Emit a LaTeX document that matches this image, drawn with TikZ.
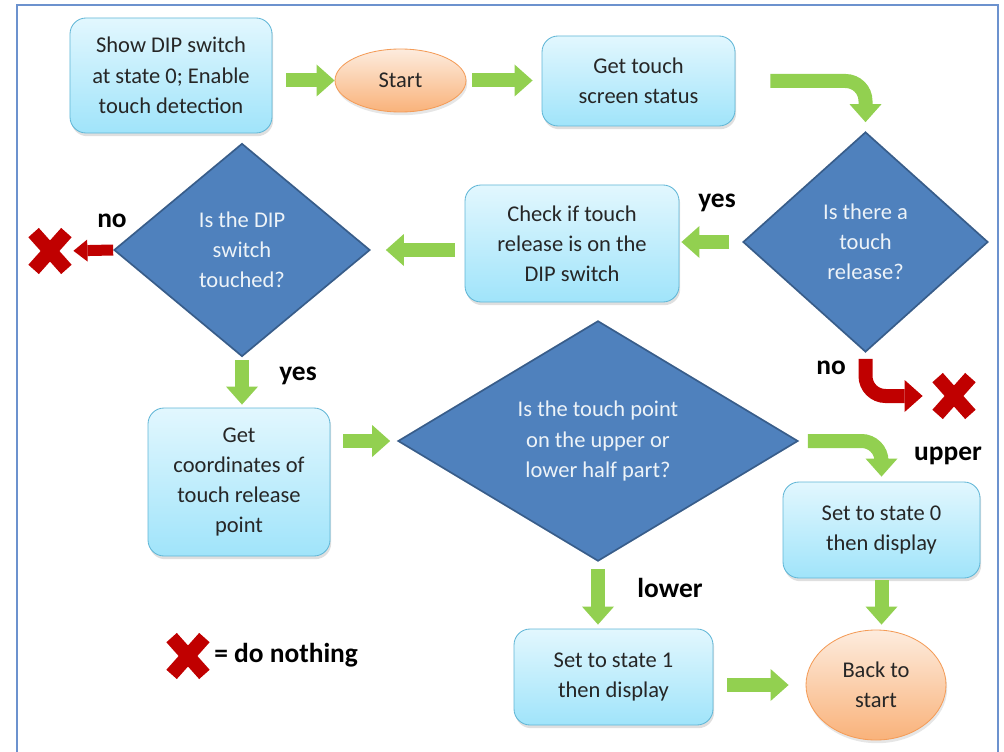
\documentclass[tikz,border=0pt]{standalone}
\usepackage{fontspec}
\setmainfont{Carlito}
\usetikzlibrary{arrows.meta, shapes.geometric, shapes.misc, shadows}
\definecolor{boxtop}{RGB}{226,247,254}
\definecolor{boxbot}{RGB}{160,228,250}
\definecolor{boxline}{RGB}{96,182,214}
\definecolor{ovtop}{RGB}{253,236,222}
\definecolor{ovbot}{RGB}{249,178,122}
\definecolor{ovline}{RGB}{244,156,88}
\definecolor{decfill}{RGB}{79,129,189}
\definecolor{decline}{RGB}{56,93,138}
\definecolor{gogreen}{RGB}{146,208,80}
\definecolor{xred}{RGB}{192,0,0}
\definecolor{framecol}{RGB}{108,146,206}
\tikzset{
  box/.style      = {draw=boxline, semithick, rounded corners=4mm, align=center,
                     top color=boxtop, bottom color=boxbot, text=black!85,
                     font=\fontsize{16}{21.5}\selectfont, inner sep=0pt,
                     drop shadow={opacity=0.25, shadow xshift=0.3mm, shadow yshift=-0.8mm}},
  oval/.style     = {ellipse, draw=ovline, semithick, align=center,
                     top color=ovtop, bottom color=ovbot, text=black!85,
                     font=\fontsize{16}{21.5}\selectfont, inner sep=0pt,
                     drop shadow={opacity=0.2, shadow xshift=0.3mm, shadow yshift=-0.8mm}},
  decision/.style = {diamond, draw=decline, line width=1.2pt, fill=decfill,
                     text=white!90!decfill, align=center, inner sep=0pt,
                     font=\fontsize{16}{21.5}\selectfont},
  nope/.style     = {cross out, draw=xred, line width=3.5mm, minimum width=8.2mm,
                     minimum height=9.2mm, inner sep=0pt, outer sep=0pt},
  fat/.style      = {draw=gogreen, line width=3.5mm,
                     -{Triangle[length=4.5mm, width=8mm, line width=0pt]}},
  nogo/.style     = {draw=xred, line width=2.75mm,
                     -{Triangle[length=3.5mm, width=5.5mm, line width=0pt]}},
  lab/.style      = {font=\bfseries\fontsize{19.5}{23}\selectfont, inner sep=0pt},
}

\begin{document}
\begin{tikzpicture}[x=0.25mm, y=-0.25mm]
  \useasboundingbox (0,0) rectangle (1004,752);
  \draw[framecol, line width=0.5mm] (17,760) -- (17,5) -- (998,5) -- (998,760);

  \node[box, minimum width=50.5mm, minimum height=28.75mm] (init) at (171,75.5)
    {Show DIP switch\\at state 0; Enable\\touch detection};
  \node[oval, minimum width=32.75mm, minimum height=15.75mm] (start) at (400.5,80.5) {Start};
  \node[box, minimum width=48.25mm, minimum height=22.5mm] (status) at (638.5,81)
    {Get touch\\screen status};
  \node[decision, minimum width=61.25mm, minimum height=55mm] (release) at (865.5,242)
    {Is there a\\touch\\release?};
  \node[box, minimum width=53.5mm, minimum height=29.25mm] (check) at (572,243.5)
    {Check if touch\\release is on the\\DIP switch};
  \node[decision, minimum width=64mm, minimum height=53.25mm] (touched) at (242,250)
    {Is the DIP\\switch\\touched?};
  \node[box, minimum width=45.5mm, minimum height=37mm] (coords) at (239,482)
    {Get\\coordinates of\\touch release\\point};
  \node[decision, minimum width=100mm, minimum height=57mm] (half) at (598,441)
    {Is the touch point\\on the upper or\\lower half part?};
  \node[box, minimum width=49.25mm, minimum height=24mm] (upper) at (881.5,530)
    {Set to state 0\\then display};
  \node[box, minimum width=49.75mm, minimum height=24mm] (lower) at (613.5,677)
    {Set to state 1\\then display};
  \node[oval, minimum width=35mm, minimum height=27.5mm] (back) at (876,685) {Back to\\start};

  \node[nope] (nope1) at (50,251) {};
  \node[nope] (nope2) at (954,396) {};
  \node[nope] (nope3) at (188,656) {};

  \node[lab] (yes1) at (717,203) {yes};
  \node[lab] (no1) at (112,221) {no};
  \node[lab] (yes2) at (298,376) {yes};
  \node[lab] (no2) at (831,368) {no};
  \node[lab] (upperlab) at (948,456) {upper};
  \node[lab] (lowerlab) at (670,588) {lower};
  \node[lab, anchor=west] (legend) at (214,655) {= do nothing};

  \draw[fat, shorten <=3.5mm] (init.east |- start) -- (start.west);
  \draw[fat, shorten <=1.5mm, shorten >=2.25mm] (start.east) -- (status.west |- start);
  \draw[fat, rounded corners=5mm, shorten <=8.75mm, shorten >=2.25mm]
    (status.east) -- (status.east -| release.north) -- (release.north);
  \draw[fat, shorten <=3.25mm, shorten >=0.5mm] (release.west) -- (check.east |- release.west);
  \draw[fat, shorten <=2.5mm, shorten >=3.75mm] (check.west |- touched) -- (touched.east);
  \draw[nogo, shorten >=1.75mm] (touched.west) -- (nope1.east);
  \draw[fat, shorten <=0.75mm, shorten >=0.75mm] (touched.south) -- (touched.south |- coords.north);
  \draw[fat, shorten <=3.25mm, shorten >=1.75mm] (coords.east |- half) -- (half.west);
  \draw[fat, rounded corners=5mm, shorten <=2.25mm, shorten >=1.25mm]
    (half.east) -- (half.east -| upper.north) -- (upper.north);
  \draw[fat, draw=xred, rounded corners=5mm, shorten <=1.5mm, shorten >=3.75mm]
    (release.south) -- (release.south |- nope2) -- (nope2.west);
  \draw[fat, shorten <=1.75mm, shorten >=1mm] (half.south) -- (half.south |- lower.north);
  \draw[fat, shorten <=3.5mm, shorten >=4.25mm] (lower.east |- back) -- (back.west);
  \draw[fat, shorten <=0.5mm, shorten >=1.25mm] (upper.south) -- (upper.south |- back.north);
\end{tikzpicture}
\end{document}
